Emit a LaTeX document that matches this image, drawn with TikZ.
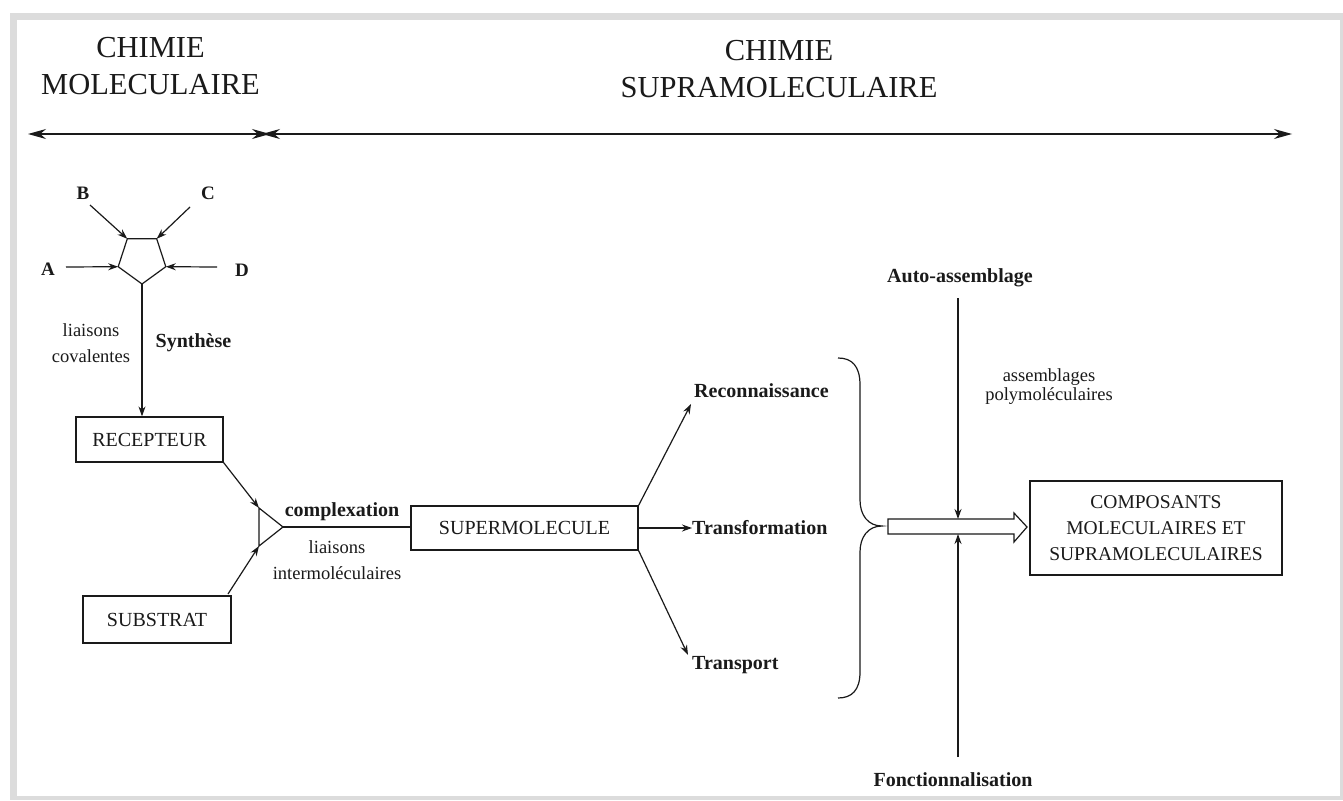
\documentclass[tikz,border=0pt]{standalone}
\usepackage{fontspec}
\setmainfont{Liberation Serif}
\usetikzlibrary{arrows.meta}
\definecolor{framegray}{HTML}{DCDCDC}
\definecolor{ink}{HTML}{1A1A1A}
\begin{document}
\begin{tikzpicture}[x=1pt,y=-1pt,
  ln/.style={draw=ink, line width=1.2pt},
  arr/.style={ln, -{Stealth[length=10pt,width=7pt]}},
  harr/.style={ln, {Stealth[length=18pt,width=10pt]}-{Stealth[length=18pt,width=10pt]}},
  boxn/.style={draw=ink, line width=1.2pt, inner sep=0pt, text=ink, font=\fontsize{20}{24}\selectfont},
  lbl/.style={inner sep=0pt, text=ink, font=\fontsize{20}{24}\selectfont\bfseries},
  ltr/.style={inner sep=0pt, text=ink, font=\fontsize{19}{24}\selectfont\bfseries},
  sm/.style={inner sep=0pt, align=center, text=ink, font=\fontsize{18.5}{26}\selectfont},
  hd/.style={inner sep=0pt, align=center, text=ink, font=\fontsize{30.5}{37}\selectfont}
]
\useasboundingbox (0,0) rectangle (1343,800);
\fill[framegray] (10,13) rectangle (1343,800);
\fill[white] (17,20) rectangle (1340,796);

% headers
\node[hd] (hl) at (150.5,66) {CHIMIE\\MOLECULAIRE};
\node[hd] (hr) at (779,69) {CHIMIE\\SUPRAMOLECULAIRE};
\coordinate (h1) at (28,134);
\coordinate (h2) at (270,134);
\coordinate (h3) at (262,134);
\coordinate (h4) at (1292,134);
\draw[harr] (h1) -- (h2);
\draw[harr] (h3) -- (h4);

% pentagon
\coordinate (p1) at (142,284);
\coordinate (p2) at (165.8,266.7);
\coordinate (p3) at (156.7,238.8);
\coordinate (p4) at (127.3,238.8);
\coordinate (p5) at (118.2,266.7);
\draw[ln, line join=miter] (p1) -- (p2) -- (p3) -- (p4) -- (p5) -- cycle;

\node[ltr] (la) at (48,269) {A};
\node[ltr] (lb) at (83,193) {B};
\node[ltr] (lc) at (208,193) {C};
\node[ltr] (ld) at (242,270) {D};
\coordinate (ta) at (66,267);
\coordinate (tb) at (90,205);
\coordinate (tc) at (190,207);
\coordinate (td) at (217,267);
\draw[arr] (ta) -- (p5);
\draw[arr] (tb) -- (p4);
\draw[arr] (tc) -- (p3);
\draw[arr] (td) -- (p2);

% synthesis
\node[boxn, minimum width=147, minimum height=45] (rec) at (149.5,439.5) {RECEPTEUR};
\draw[arr] (p1) -- (p1 |- rec.north);
\node[sm] (lcov) at (91,343) {liaisons\\covalentes};
\node[lbl] (syn) at (193.5,343) {Synthèse};

\node[boxn, minimum width=148, minimum height=47] (sub) at (157,619.5) {SUBSTRAT};

% complexation junction
\coordinate (t1) at (259,508);
\coordinate (t2) at (259,546);
\coordinate (tx) at (283,527);
\draw[ln, line join=miter] (t1) -- (tx) -- (t2) -- cycle;
\draw[arr] (rec.south east) -- (t1);
\coordinate (st) at (228,594);
\draw[arr] (st) -- (t2);

\node[boxn, minimum width=227, minimum height=44] (sup) at (524.5,528) {SUPERMOLECULE};
\draw[ln] (tx) -- (tx -| sup.west);
\node[lbl] (cx) at (342,512) {complexation};
\node[sm] (lint) at (337,560) {liaisons\\intermoléculaires};

% outcomes
\node[lbl, anchor=west] (reco) at (694,391) {Reconnaissance};
\node[lbl, anchor=west] (trf) at (692,528) {Transformation};
\node[lbl, anchor=west] (trp) at (692,665) {Transport};
\coordinate (rt) at (691,404);
\coordinate (tpt) at (688,655);
\draw[arr] (sup.north east) -- (rt);
\draw[arr] (sup.east) -- (trf.west);
\draw[arr] (sup.south east) -- (tpt);

% brace
\draw[ln] (838,358) .. controls (852,358) and (860,366) .. (860,385)
  -- (860,500) .. controls (860,515) and (868,526) .. (882,526)
  .. controls (868,526) and (860,537) .. (860,552)
  -- (860,672) .. controls (860,690) and (852,698) .. (838,698);

% hollow arrow
\coordinate (s1) at (888,519);
\coordinate (s2) at (1014,519);
\coordinate (s3) at (1014,513);
\coordinate (htip) at (1027,527);
\coordinate (s4) at (1014,542);
\coordinate (s5) at (1014,534);
\coordinate (s6) at (888,534);
\draw[ln, line join=miter] (s1) -- (s2) -- (s3) -- (htip) -- (s4) -- (s5) -- (s6) -- cycle;
\coordinate (stop) at (958,519);
\coordinate (sbot) at (958,534);

\node[lbl] (aa) at (960,278) {Auto-assemblage};
\coordinate (aat) at (958,298);
\draw[arr] (aat) -- (stop);
\node[lbl] (fn) at (953,780) {Fonctionnalisation};
\coordinate (fnt) at (958,757);
\draw[arr] (fnt) -- (sbot);

\node[sm, font=\fontsize{18.5}{19}\selectfont] (asm) at (1049,386.5) {assemblages\\polymoléculaires};

\node[boxn, align=center, minimum width=252, minimum height=94, font=\fontsize{19.5}{26}\selectfont] (comp) at (1156,528) {COMPOSANTS\\MOLECULAIRES ET\\SUPRAMOLECULAIRES};
\end{tikzpicture}
\end{document}
